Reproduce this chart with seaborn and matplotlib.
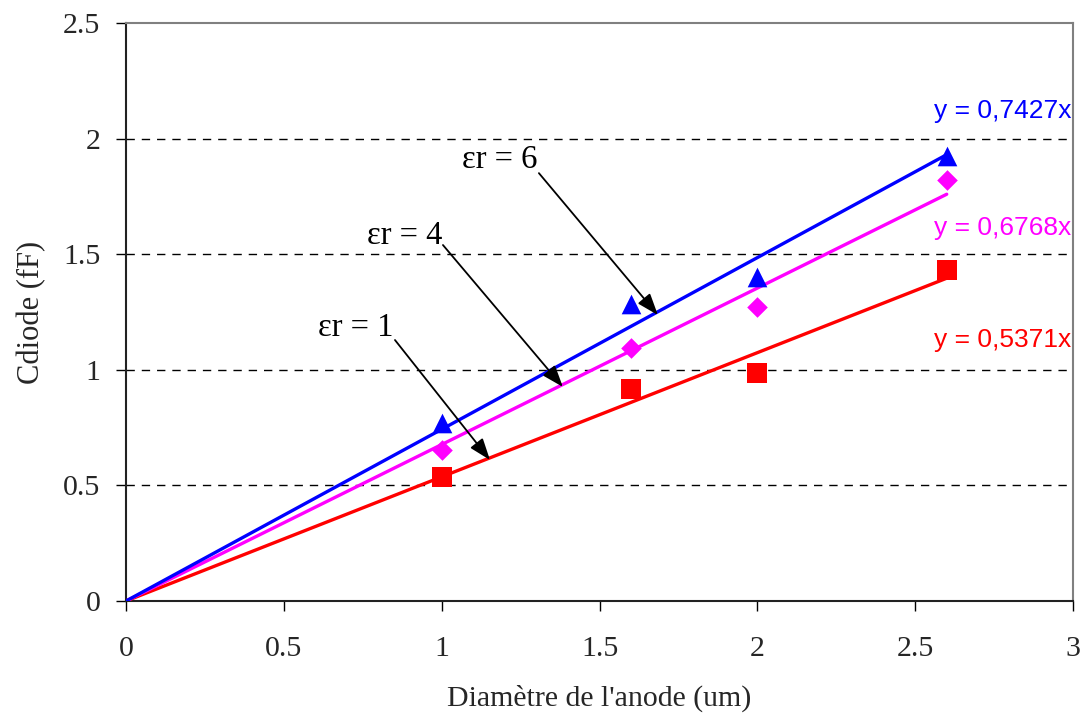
import matplotlib
matplotlib.use("Agg")
import matplotlib.pyplot as plt
import seaborn as sns
import pandas as pd
import numpy as np

# Data
x_vals = [1.0, 1.6, 2.0, 2.6]
er1_vals = [0.535, 0.915, 0.985, 1.43]
er4_vals = [0.655, 1.095, 1.27, 1.82]
er6_vals = [0.77, 1.285, 1.40, 1.925]
slopes = {"er1": 0.5371, "er4": 0.6768, "er6": 0.7427}
eq_labels = {"er1": "y = 0,5371x", "er4": "y = 0,6768x", "er6": "y = 0,7427x"}
x_ticks = [0, 0.5, 1, 1.5, 2, 2.5, 3]
y_ticks = [0, 0.5, 1, 1.5, 2, 2.5]

sns.set_theme(style="white")
plt.rcParams['font.family'] = ['Liberation Serif', 'DejaVu Serif']

colors = {"er1": "#FF0000", "er4": "#FF00FF", "er6": "#0000FF"}
markers = {"er1": "s", "er4": "D", "er6": "^"}
msizes = {"er1": 190, "er4": 110, "er6": 200}

fig = plt.figure(figsize=(10.8, 7.22), dpi=100)
ax = fig.add_axes([0.1167, 0.1676, 0.8768, 0.8004])

pts = pd.DataFrame({
    "x": x_vals * 3,
    "y": er1_vals + er4_vals + er6_vals,
    "s": ["er1"] * 4 + ["er4"] * 4 + ["er6"] * 4,
})

# trend lines from 0 to 2.6
xl = [0.0, 2.6]
lines = pd.DataFrame({
    "x": xl * 3,
    "y": [slopes[k] * v for k in ["er1", "er4", "er6"] for v in xl],
    "s": ["er1"] * 2 + ["er4"] * 2 + ["er6"] * 2,
})

for k in ["er1", "er4", "er6"]:
    sub = lines[lines.s == k]
    sns.lineplot(data=sub, x="x", y="y", ax=ax, color=colors[k], linewidth=2.4,
                 zorder=3, legend=False)
for k in ["er1", "er4", "er6"]:
    sub = pts[pts.s == k]
    sns.scatterplot(data=sub, x="x", y="y", ax=ax, color=colors[k], marker=markers[k],
                    s=msizes[k], linewidth=0, zorder=4, legend=False)

ax.set_xlim(0, 3)
ax.set_ylim(0, 2.5)
ax.set_xticks(x_ticks)
ax.set_yticks(y_ticks)
ax.set_xticklabels([f"{t:g}" for t in x_ticks], fontsize=21.5)
ax.set_yticklabels([f"{t:g}" for t in y_ticks], fontsize=21.5)
ax.tick_params(axis="both", direction="out", length=7.5, width=1, color="black",
               bottom=True, left=True, top=False, right=False)
ax.tick_params(axis="x", pad=18)
ax.tick_params(axis="y", pad=11)

for yv in [0.5, 1, 1.5, 2]:
    ax.axhline(yv, color="black", linewidth=1, linestyle=(0, (6, 5)), zorder=1)

ax.set_xlabel("Diamètre de l'anode (um)", fontsize=21.5, labelpad=16)
ax.set_ylabel("Cdiode (fF)", fontsize=22, labelpad=12)

for side in ["left", "bottom"]:
    ax.spines[side].set_color("#222222")
    ax.spines[side].set_linewidth(1.5)
for side in ["top", "right"]:
    ax.spines[side].set_color("#808080")
    ax.spines[side].set_linewidth(1.5)

# equation labels
eq_pos = {"er6": 2.12, "er4": 1.613, "er1": 1.129}
for k in ["er6", "er4", "er1"]:
    ax.text(2.995, eq_pos[k], eq_labels[k], color=colors[k], ha="right", va="center",
            fontsize=19, family=["Liberation Sans", "DejaVu Sans"])

# annotations
ann = [
    ("εr = 6", (1.685, 1.237), (1.305, 1.907), (1.308, 1.851)),
    ("εr = 4", (1.384, 0.926), (1.001, 1.579), (1.004, 1.540)),
    ("εr = 1", (1.153, 0.610), (0.846, 1.181), (0.852, 1.129)),
]
for txt, head, tpos, tail in ann:
    ax.text(tpos[0], tpos[1], txt, ha="right", va="center", fontsize=23.5, color="black")
    ax.annotate("", xy=head, xytext=tail,
                arrowprops=dict(arrowstyle="-|>,head_length=1.1,head_width=0.4",
                                color="black", lw=1.3, shrinkA=0, shrinkB=0),
                zorder=5)

fig.savefig("out.png", dpi=100)
